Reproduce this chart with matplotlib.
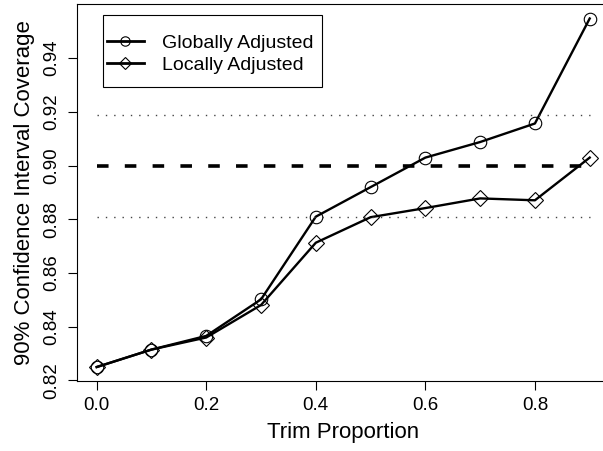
import matplotlib
matplotlib.use("Agg")
import matplotlib.pyplot as plt
from matplotlib.patches import Rectangle

plt.rcParams['font.family'] = ['Liberation Sans', 'DejaVu Sans']

# data
trim = [0.0, 0.1, 0.2, 0.3, 0.4, 0.5, 0.6, 0.7, 0.8, 0.9]
global_cov = [0.825, 0.8315, 0.8366, 0.8502, 0.881, 0.892, 0.903, 0.9088, 0.9157, 0.9548]
local_cov = [0.825, 0.8315, 0.836, 0.8481, 0.8713, 0.8808, 0.8842, 0.8878, 0.8871, 0.903]
nominal = 0.90
band = [0.881, 0.919]
xticks = [0.0, 0.2, 0.4, 0.6, 0.8]
yticks = [0.82, 0.84, 0.86, 0.88, 0.90, 0.92, 0.94]

W, H = 603, 451
fig = plt.figure(figsize=(W / 100, H / 100), dpi=100)
# right edge of the plot box is cropped off in the reference
ax = fig.add_axes([76.7 / W, 70 / H, 533 / W, 377 / H])

ax.plot(trim, global_cov, color='black', lw=1.7, marker='o', ms=9,
        mfc='none', mec='black', mew=0.8, label='Globally Adjusted')
ax.plot(trim, local_cov, color='black', lw=1.7, marker='D', ms=8.5,
        mfc='none', mec='black', mew=0.8, label='Locally Adjusted')

ax.hlines(nominal, trim[0], trim[-1], colors='black', lw=2.6,
          linestyles=[(0, (3.2, 4.5))])
for b in band:
    ax.hlines(b, trim[0], trim[-1], colors='#444444', lw=1.0,
              linestyles=[(0, (1, 5))])

ax.set_xlim(-0.0365, 0.9365)
ax.set_ylim(0.8198, 0.9602)
ax.set_xticks(xticks)
ax.set_xticklabels([f'{v:.1f}' for v in xticks])
ax.set_yticks(yticks)
ax.set_yticklabels([f'{v:.2f}' for v in yticks], rotation=90, va='center')
ax.tick_params(direction='out', length=6.5, width=0.8, labelsize=13.5, pad=5)
ax.spines['right'].set_visible(False)
for s in ['left', 'bottom', 'top']:
    ax.spines[s].set_linewidth(0.8)

ax.set_xlabel('Trim Proportion', fontsize=16, labelpad=6)
ax.set_ylabel('90% Confidence Interval Coverage', fontsize=16, labelpad=6)

# legend box drawn by hand so the inner padding can match
fig.patches.append(Rectangle((102.5 / W, 1 - 87 / H), (322 - 102.5) / W, 72 / H,
                             transform=fig.transFigure, fill=False,
                             edgecolor='black', lw=0.8))
leg = ax.legend(loc='center left', bbox_to_anchor=(106.7 / W, 1 - 54 / H),
                bbox_transform=fig.transFigure, fontsize=14, frameon=False,
                handlelength=1.9, handletextpad=0.95, labelspacing=0.2,
                borderpad=0, borderaxespad=0, markerscale=0.75)
for h in leg.legend_handles:
    h.set_linewidth(2.0)

fig.savefig('out.png', dpi=100)
